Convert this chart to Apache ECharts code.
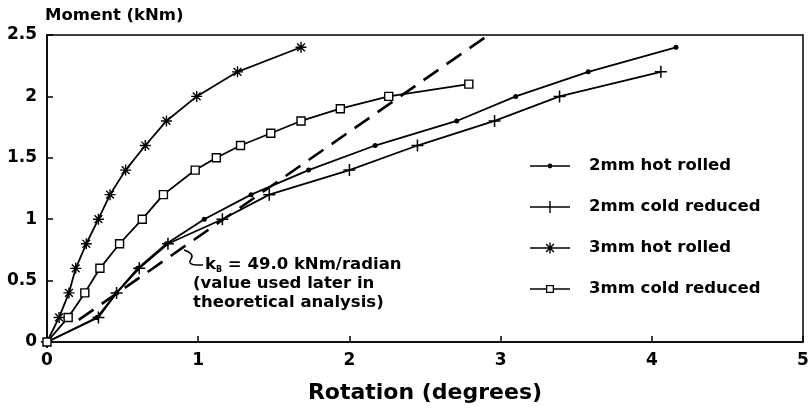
<!DOCTYPE html>
<html><head><meta charset="utf-8">
<script src="https://cdn.jsdelivr.net/npm/echarts@6/dist/echarts.min.js"></script>
<style>html,body{margin:0;padding:0;background:#fff}#c{width:811px;height:410px}</style>
</head><body><div id="c"></div>
<script>
// ---- data (rotation in degrees, moment in kNm) ----
const hot2Name = '2mm hot rolled';
const hot2X = [0, 0.33, 0.46, 0.60, 0.79, 1.04, 1.35, 1.73, 2.17, 2.71, 3.10, 3.58, 4.16];
const hot2Y = [0, 0.2, 0.4, 0.6, 0.8, 1.0, 1.2, 1.4, 1.6, 1.8, 2.0, 2.2, 2.4];

const cold2Name = '2mm cold reduced';
const cold2X = [0, 0.34, 0.46, 0.61, 0.80, 1.16, 1.47, 2.00, 2.45, 2.96, 3.39, 4.06];
const cold2Y = [0, 0.2, 0.4, 0.6, 0.8, 1.0, 1.2, 1.4, 1.6, 1.8, 2.0, 2.2];

const hot3Name = '3mm hot rolled';
const hot3X = [0, 0.08, 0.145, 0.19, 0.26, 0.34, 0.417, 0.52, 0.65, 0.79, 0.99, 1.26, 1.68];
const hot3Y = [0, 0.2, 0.4, 0.6, 0.8, 1.0, 1.2, 1.4, 1.6, 1.8, 2.0, 2.2, 2.4];

const cold3Name = '3mm cold reduced';
const cold3X = [0, 0.14, 0.25, 0.35, 0.48, 0.63, 0.77, 0.98, 1.12, 1.28, 1.48, 1.68, 1.94, 2.26, 2.79];
const cold3Y = [0, 0.2, 0.4, 0.6, 0.8, 1.0, 1.2, 1.4, 1.5, 1.6, 1.7, 1.8, 1.9, 2.0, 2.1];

// theoretical stiffness line kB = 49.0 kNm/radian
const kbX = [0.21, 2.92];
const kbY = [0.18, 2.5];

const annotLine1 = '{k|k}{s|B}{t| = 49.0 kNm/radian}';
const annotLine2 = '(value used later in';
const annotLine3 = 'theoretical analysis)';
const annotAnchor = [0.966, 0.627];

const xName = 'Rotation (degrees)';
const yName = 'Moment (kNm)';

function pairs(xs, ys) { return xs.map((x, i) => [x, ys[i]]); }

const FONT = 'DejaVu Sans';
const plusPath = 'path://M-0.75,-6 H0.75 V-0.75 H6 V0.75 H0.75 V6 H-0.75 V0.75 H-6 V-0.75 H-0.75 Z';
const starPath = 'path://M-6,-0.75 H6 V0.75 H-6 Z M0.75,-6 V6 H-0.75 V-6 Z ' +
  'M-3.71,-4.77 L4.77,3.71 L3.71,4.77 L-4.77,-3.71 Z ' +
  'M4.77,-3.71 L-3.71,4.77 L-4.77,3.71 L3.71,-4.77 Z';

const iconDot = 'path://M0,5.3 H40 V6.7 H0 Z M17.6,6 A2.4,2.4 0 1,1 22.4,6 A2.4,2.4 0 1,1 17.6,6 Z';
const iconPlus = 'path://M0,5.3 H40 V6.7 H0 Z M19.3,0 H20.7 V12 H19.3 Z';
const iconStar = 'path://M0,5.3 H40 V6.7 H0 Z M19.3,0.5 H20.7 V11.5 H19.3 Z ' +
  'M16.61,1.62 L24.38,9.39 L23.39,10.38 L15.62,2.62 Z ' +
  'M24.38,2.61 L16.61,10.38 L15.62,9.39 L23.39,1.62 Z';
const iconSquare = 'path://M0,5.3 H16 V6.7 H0 Z M24,5.3 H40 V6.7 H24 Z M16,2 H24 V10 H16 Z M17.3,3.3 V8.7 H22.7 V3.3 Z';

const chart = echarts.init(document.getElementById('c'), null, {renderer: 'canvas'});

const lineW = 1.8;
function ser(name, xs, ys, symbol, size, fill, bw) {
  return {
    name, type: 'line', data: pairs(xs, ys), symbol, symbolSize: size,
    lineStyle: {color: '#000', width: lineW},
    itemStyle: {color: fill, borderColor: '#000', borderWidth: bw},
    z: 3, animation: false
  };
}

const legendItem = (name, icon) => ({name, icon, itemStyle: {color: '#000', borderWidth: 0}});

chart.setOption({
  animation: false,
  backgroundColor: '#fff',
  textStyle: {fontFamily: FONT},
  grid: {left: 47, right: 8, top: 35, bottom: 68, containLabel: false, outerBoundsMode: 'none',
    show: true, borderColor: '#000', borderWidth: 1.5, backgroundColor: 'transparent'},
  xAxis: {
    type: 'value', min: 0, max: 5, interval: 1,
    name: xName, nameLocation: 'middle', nameGap: 40,
    nameTextStyle: {fontSize: 22, fontWeight: 'bold', color: '#000', fontFamily: FONT},
    axisLine: {show: true, lineStyle: {color: '#000', width: 1.5}},
    axisTick: {show: true, inside: true, length: 6, lineStyle: {color: '#000', width: 1.5}},
    axisLabel: {fontSize: 17, fontWeight: 'bold', color: '#000', margin: 10, fontFamily: FONT},
    splitLine: {show: false}
  },
  yAxis: {
    type: 'value', min: 0, max: 2.5, interval: 0.5,
    name: yName, nameLocation: 'end', nameGap: 11,
    nameTextStyle: {fontSize: 16.5, fontWeight: 'bold', color: '#000', align: 'left', padding: [0, 0, 0, -2], fontFamily: FONT},
    axisLine: {show: true, lineStyle: {color: '#000', width: 1.5}},
    axisTick: {show: true, inside: true, length: 6, lineStyle: {color: '#000', width: 1.5}},
    axisLabel: {fontSize: 17, fontWeight: 'bold', color: '#000', margin: 10, fontFamily: FONT},
    splitLine: {show: false}
  },
  legend: {
    orient: 'vertical', left: 525, top: 151,
    itemWidth: 40, itemHeight: 12, itemGap: 21,
    textStyle: {fontSize: 16.5, fontWeight: 'bold', color: '#000', lineHeight: 20, padding: [0, 0, 0, 14], fontFamily: FONT},
    data: [legendItem(hot2Name, iconDot), legendItem(cold2Name, iconPlus), legendItem(hot3Name, iconStar), legendItem(cold3Name, iconSquare)]
  },
  series: [
    ser(hot2Name, hot2X, hot2Y, 'circle', 5, '#000', 0),
    ser(cold2Name, cold2X, cold2Y, plusPath, 12, '#000', 0),
    ser(hot3Name, hot3X, hot3Y, starPath, 11, '#000', 0),
    ser(cold3Name, cold3X, cold3Y, 'rect', 8, '#fff', 1.4),
    {
      name: 'kB', type: 'line', data: pairs(kbX, kbY), symbol: 'none',
      lineStyle: {color: '#000', width: 2.6, type: [18, 10]}, z: 2, animation: false
    }
  ]
});

const p = chart.convertToPixel({gridIndex: 0}, annotAnchor);
const ax = p[0], ay = p[1];
const aFont = 'bold 16.5px "' + FONT + '"';
const leadStyle = {stroke: '#000', lineWidth: 1.5, fill: null};
chart.setOption({
  graphic: [
    {type: 'text', x: ax + 12, y: ay, style: {text: annotLine1, fill: '#000', verticalAlign: 'middle', font: aFont,
      rich: {k: {fontSize: 16.5, fontWeight: 'bold', fontFamily: FONT, fill: '#000'},
             s: {fontSize: 8, fontWeight: 'bold', fontFamily: FONT, fill: '#000', verticalAlign: 'bottom', padding: [7, 0, 0, 0]},
             t: {fontSize: 16.5, fontWeight: 'bold', fontFamily: FONT, fill: '#000'}}}},
    {type: 'text', x: ax, y: ay + 19, style: {text: annotLine2, fill: '#000', verticalAlign: 'middle', font: aFont}},
    {type: 'text', x: ax, y: ay + 38, style: {text: annotLine3, fill: '#000', verticalAlign: 'middle', font: aFont}},
    {type: 'bezierCurve', x: ax + 12, y: ay, shape: {x1: -21, y1: -15, cpx1: -15, cpy1: -13, cpx2: -11, cpy2: -10, x2: -14, y2: -6}, style: leadStyle},
    {type: 'bezierCurve', x: ax + 12, y: ay, shape: {x1: -14, y1: -6, cpx1: -17, cpy1: -2, cpx2: -14, cpy2: 0, x2: -8, y2: 0}, style: leadStyle},
    {type: 'line', x: ax + 12, y: ay, shape: {x1: -8, y1: 0, x2: -2, y2: 0}, style: leadStyle}
  ]
});
</script></body></html>
